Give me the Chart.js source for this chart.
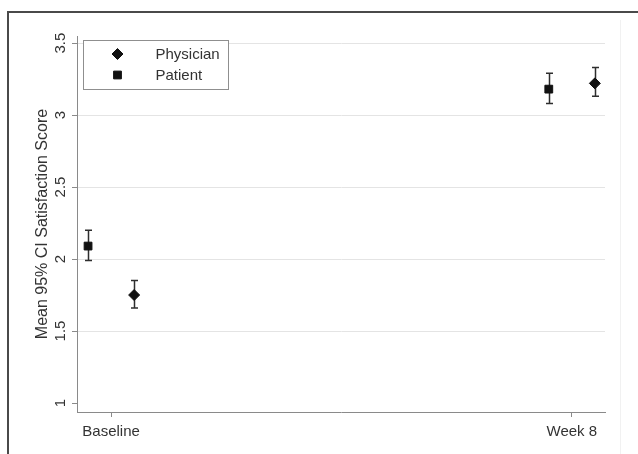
<!DOCTYPE html>
<html>
<head>
<meta charset="utf-8">
<script src="https://cdn.jsdelivr.net/npm/chart.js@4.4.1/dist/chart.umd.min.js"></script>
<style>
  html, body { margin: 0; padding: 0; background: #ffffff; }
  #wrap { position: relative; width: 638px; height: 454px; }
</style>
</head>
<body>
<div id="wrap"><canvas id="c" width="638" height="454"></canvas></div>
<script>
// Time points and the mean satisfaction score with its 95% CI for each rater
const timepoints = ['Baseline', 'Week 8'];

const physicianMean = [1.75, 3.22];
const physicianLow  = [1.66, 3.13];
const physicianHigh = [1.85, 3.33];

const patientMean = [2.09, 3.18];
const patientLow  = [1.99, 3.08];
const patientHigh = [2.20, 3.29];

const yTickValues = [1, 1.5, 2, 2.5, 3, 3.5];

const FONT = '"Liberation Sans", Arial, Helvetica, sans-serif';
const INK = '#333333';
const AXIS = '#8a8a8a';

// Side-by-side dodge so the two raters do not overlap at a time point
const dodge = { physician: 0.05, patient: -0.05 };

function toPoints(means, shift) {
  return means.map((m, i) => ({ x: i + shift, y: m }));
}

const series = [
  { label: 'Physician', data: toPoints(physicianMean, dodge.physician), low: physicianLow, high: physicianHigh, style: 'rectRot' },
  { label: 'Patient',   data: toPoints(patientMean, dodge.patient),     low: patientLow,   high: patientHigh,   style: 'rect' }
];

// White page with the outer frame lines
const framePlugin = {
  id: 'frame',
  beforeDraw(chart) {
    const ctx = chart.ctx;
    ctx.save();
    ctx.fillStyle = '#ffffff';
    ctx.fillRect(0, 0, chart.width, chart.height);
    ctx.strokeStyle = '#f1f1f1';
    ctx.lineWidth = 1;
    ctx.beginPath();
    ctx.moveTo(620.5, 20);
    ctx.lineTo(620.5, chart.height);
    ctx.stroke();
    ctx.strokeStyle = '#4a4a4a';
    ctx.lineWidth = 2;
    ctx.beginPath();
    ctx.moveTo(8, chart.height);
    ctx.lineTo(8, 12);
    ctx.lineTo(chart.width, 12);
    ctx.stroke();
    ctx.restore();
  }
};

// 95% CI whiskers with end caps, drawn under the markers
const errorBarPlugin = {
  id: 'errorBars',
  beforeDatasetsDraw(chart) {
    const ctx = chart.ctx;
    const yScale = chart.scales.y;
    ctx.save();
    ctx.strokeStyle = '#2e2e2e';
    ctx.lineWidth = 1.5;
    chart.data.datasets.forEach((ds, di) => {
      const meta = chart.getDatasetMeta(di);
      meta.data.forEach((pt, i) => {
        const x = Math.round(pt.x) + 0.5;
        const yLo = yScale.getPixelForValue(ds.low[i]);
        const yHi = yScale.getPixelForValue(ds.high[i]);
        const cap = 3.5;
        ctx.beginPath();
        ctx.moveTo(x, yLo);
        ctx.lineTo(x, yHi);
        ctx.moveTo(x - cap, yLo);
        ctx.lineTo(x + cap, yLo);
        ctx.moveTo(x - cap, yHi);
        ctx.lineTo(x + cap, yHi);
        ctx.stroke();
      });
    });
    ctx.restore();
  }
};

// Vertical-reading y tick labels and the boxed legend in the upper left
const labelsPlugin = {
  id: 'labels',
  afterDraw(chart) {
    const ctx = chart.ctx;
    const yScale = chart.scales.y;
    ctx.save();
    ctx.fillStyle = INK;
    ctx.font = '15px ' + FONT;
    ctx.textAlign = 'center';
    ctx.textBaseline = 'middle';
    yScale.ticks.forEach(t => {
      const y = yScale.getPixelForValue(t.value);
      ctx.save();
      ctx.translate(60.5, y);
      ctx.rotate(-Math.PI / 2);
      ctx.fillText(String(t.value), 0, 0);
      ctx.restore();
    });

    // legend box
    const area = chart.chartArea;
    const bx = area.left + 6.5, by = area.top + 4.5, bw = 145, bh = 49;
    ctx.fillStyle = '#ffffff';
    ctx.fillRect(bx, by, bw, bh);
    ctx.strokeStyle = '#8f8f8f';
    ctx.lineWidth = 1;
    ctx.strokeRect(bx, by, bw, bh);
    ctx.textAlign = 'left';
    chart.data.datasets.forEach((ds, i) => {
      const cy = by + 13.5 + i * 21;
      ctx.fillStyle = '#111111';
      ctx.strokeStyle = '#111111';
      ctx.lineWidth = 1;
      Chart.helpers.drawPoint(ctx, { pointStyle: ds.pointStyle, radius: ds.pointRadius, borderWidth: 1 }, bx + 34, cy);
      ctx.fillStyle = INK;
      ctx.fillText(ds.label, bx + 72, cy + 1);
    });
    ctx.restore();
  }
};

new Chart(document.getElementById('c'), {
  type: 'scatter',
  data: {
    datasets: series.map(s => ({
      label: s.label,
      data: s.data,
      low: s.low,
      high: s.high,
      pointStyle: s.style,
      pointRadius: 5.5,
      pointHoverRadius: 5.5,
      borderWidth: 1,
      backgroundColor: '#111111',
      borderColor: '#111111'
    }))
  },
  options: {
    responsive: false,
    animation: false,
    events: [],
    layout: { padding: { top: 36, right: 33, left: 0, bottom: 0 } },
    plugins: {
      legend: { display: false },
      tooltip: { enabled: false }
    },
    scales: {
      x: {
        type: 'linear',
        min: -0.074,
        max: 1.072,
        afterBuildTicks(s) { s.ticks = timepoints.map((_, i) => ({ value: i })); },
        afterFit(s) { s.height = 42; },
        ticks: {
          callback: v => timepoints[v],
          font: { family: FONT, size: 15 },
          color: INK,
          padding: 6,
          maxRotation: 0
        },
        grid: { drawOnChartArea: false, drawTicks: true, tickLength: 5, color: AXIS },
        border: { display: true, color: AXIS, width: 1 }
      },
      y: {
        type: 'linear',
        min: 0.9375,
        max: 3.549,
        afterBuildTicks(s) { s.ticks = yTickValues.map(v => ({ value: v })); },
        afterFit(s) { s.width = 77; },
        ticks: { display: false },
        grid: {
          color: ctx => (ctx.tick && ctx.tick.value === yTickValues[0]) ? 'rgba(0,0,0,0)' : '#e4e4e4',
          tickColor: AXIS,
          drawTicks: true,
          tickLength: 5
        },
        border: { display: true, color: AXIS, width: 1 },
        title: {
          display: true,
          text: 'Mean 95% CI Satisfaction Score',
          font: { family: FONT, size: 16 },
          color: INK,
          padding: { top: 33, bottom: 0 }
        }
      }
    }
  },
  plugins: [framePlugin, errorBarPlugin, labelsPlugin]
});
</script>
</body>
</html>
